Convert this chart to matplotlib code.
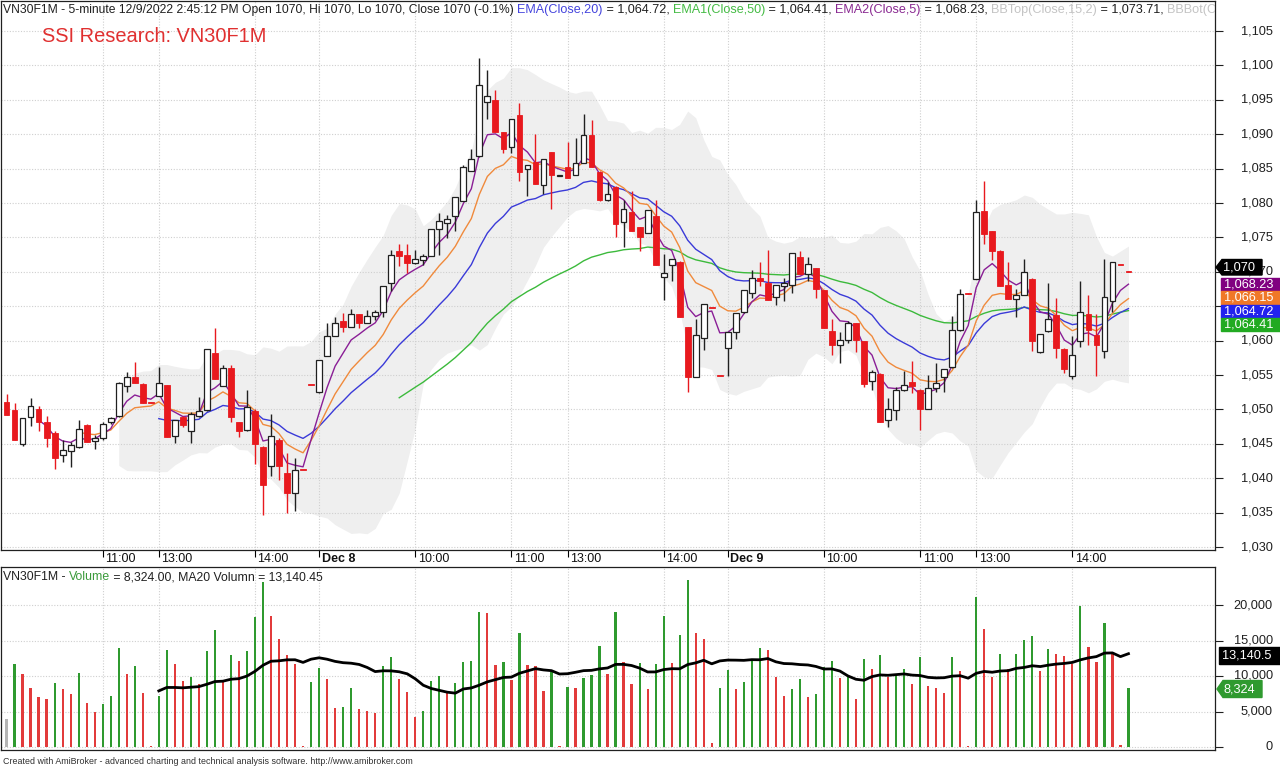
import numpy as np
import pandas as pd
import matplotlib
matplotlib.use("Agg")
import matplotlib.pyplot as plt
from matplotlib.patches import Rectangle, Polygon
from matplotlib.transforms import IdentityTransform, blended_transform_factory, offset_copy

plt.rcParams['font.family'] = ['Liberation Sans', 'DejaVu Sans']

# ---------------- data (5-minute bars, Dec 7 10:00 -> Dec 9 14:45) ----------------
opens = [1051.1, 1049.9, 1044.9, 1048.95, 1050.1, 1048.2, 1046.5, 1043.3, 1044.0, 1044.5,
         1047.8, 1045.4, 1045.9, 1048.1, 1049.0, 1053.4, 1054.7, 1053.7, 1051.05, 1052.0,
         1053.5, 1046.1, 1048.95, 1046.9, 1049.0, 1049.9, 1058.2, 1053.4, 1056.0, 1048.1,
         1047.0, 1049.8, 1044.6, 1041.8, 1045.6, 1040.7, 1037.9, 1041.25, 1053.55, 1052.6,
         1057.7, 1060.7, 1062.8, 1062.0, 1063.9, 1062.6, 1063.6, 1064.1, 1068.4, 1073.0,
         1072.5, 1071.3, 1071.7, 1072.3, 1076.2, 1077.1, 1078.1, 1080.3, 1084.7, 1086.9,
         1094.7, 1094.9, 1090.3, 1088.1, 1092.8, 1085.0, 1085.9, 1082.6, 1087.4, 1083.95,
         1085.2, 1084.0, 1085.8, 1089.9, 1084.5, 1080.4, 1082.3, 1077.2, 1078.7, 1076.5,
         1075.6, 1078.1, 1069.2, 1071.0, 1071.4, 1062.0, 1054.7, 1060.4, 1064.75, 1054.85,
         1058.9, 1061.3, 1064.1, 1066.9, 1069.1, 1068.3, 1066.4, 1068.0, 1068.1, 1072.2,
         1069.7, 1070.6, 1067.4, 1061.4, 1059.3, 1060.1, 1062.5, 1059.9, 1054.2, 1055.2,
         1048.4, 1049.9, 1052.8, 1054.0, 1052.8, 1050.0, 1053.1, 1054.7, 1056.1, 1061.5,
         1066.85, 1069.0, 1078.8, 1075.9, 1073.0, 1068.1, 1066.1, 1066.7, 1069.0, 1058.3,
         1061.4, 1063.7, 1058.8, 1054.8, 1059.9, 1063.9, 1060.8, 1058.5, 1065.8, 1071.05,
         1070.05]
highs = [1052.3, 1050.9, 1048.7, 1051.7, 1050.5, 1049.0, 1046.8, 1045.6, 1045.2, 1048.4,
         1047.9, 1046.3, 1048.2, 1048.9, 1054.0, 1055.5, 1056.9, 1053.9, 1051.05, 1056.2,
         1053.6, 1048.4, 1049.0, 1049.6, 1051.8, 1058.8, 1061.9, 1056.4, 1056.4, 1048.2,
         1052.8, 1050.0, 1044.7, 1049.3, 1045.8, 1043.7, 1043.0, 1041.25, 1053.55, 1057.2,
         1062.5, 1063.4, 1064.0, 1064.6, 1063.9, 1064.5, 1064.5, 1068.0, 1073.2, 1074.0,
         1074.0, 1073.2, 1072.6, 1076.2, 1078.5, 1078.2, 1080.8, 1085.5, 1087.9, 1101.1,
         1099.4, 1096.4, 1090.3, 1092.2, 1094.6, 1085.5, 1090.0, 1086.4, 1087.4, 1084.05,
         1088.9, 1089.5, 1092.9, 1092.0, 1084.6, 1083.0, 1082.5, 1080.5, 1081.7, 1076.5,
         1079.0, 1080.5, 1072.6, 1071.8, 1071.5, 1062.0, 1063.2, 1065.3, 1064.75, 1054.85,
         1061.3, 1064.0, 1067.4, 1070.3, 1071.4, 1073.2, 1068.1, 1069.1, 1072.7, 1073.0,
         1072.2, 1070.6, 1067.4, 1063.2, 1061.3, 1062.8, 1062.6, 1060.0, 1055.7, 1055.3,
         1051.6, 1053.3, 1055.6, 1057.1, 1052.9, 1055.0, 1056.8, 1055.8, 1063.6, 1067.5,
         1066.85, 1080.4, 1083.2, 1076.0, 1073.1, 1071.4, 1067.5, 1071.9, 1069.1, 1061.0,
         1068.4, 1066.2, 1058.9, 1060.7, 1068.6, 1066.6, 1063.9, 1071.8, 1071.4, 1071.05,
         1070.05]
lows = [1049.2, 1045.6, 1044.7, 1047.6, 1046.8, 1044.6, 1041.4, 1042.3, 1041.6, 1044.4,
        1045.2, 1044.3, 1045.6, 1047.9, 1048.9, 1052.5, 1053.8, 1051.0, 1051.0, 1051.9,
        1046.0, 1045.1, 1047.5, 1045.1, 1048.9, 1049.8, 1054.4, 1053.4, 1048.1, 1046.0,
        1046.8, 1042.1, 1034.7, 1040.3, 1039.8, 1034.9, 1035.2, 1041.2, 1053.5, 1052.4,
        1057.7, 1060.7, 1061.3, 1062.0, 1061.8, 1062.6, 1063.0, 1063.4, 1067.2, 1070.8,
        1069.8, 1071.1, 1071.0, 1072.3, 1072.5, 1074.9, 1075.9, 1080.3, 1084.6, 1086.7,
        1092.2, 1090.3, 1087.3, 1087.3, 1083.2, 1081.0, 1082.7, 1081.3, 1079.1, 1083.95,
        1083.7, 1084.0, 1085.8, 1085.3, 1080.3, 1080.3, 1075.0, 1073.6, 1075.9, 1073.0,
        1075.6, 1071.0, 1065.9, 1068.6, 1063.5, 1052.5, 1054.7, 1058.6, 1064.7, 1054.8,
        1054.8, 1060.3, 1064.0, 1066.2, 1068.0, 1065.9, 1065.2, 1065.7, 1066.9, 1069.7,
        1068.6, 1066.2, 1061.8, 1057.9, 1056.7, 1059.6, 1058.4, 1053.3, 1052.8, 1048.2,
        1047.4, 1048.4, 1052.7, 1052.4, 1047.0, 1050.0, 1052.5, 1052.5, 1056.0, 1061.4,
        1066.8, 1069.0, 1074.1, 1071.7, 1068.0, 1066.1, 1063.4, 1066.6, 1058.5, 1058.2,
        1061.3, 1057.4, 1055.3, 1054.4, 1059.0, 1059.4, 1054.8, 1057.4, 1064.1, 1071.0,
        1070.0]
closes = [1049.2, 1045.6, 1048.7, 1050.5, 1048.2, 1045.9, 1043.0, 1044.1, 1044.8, 1047.1,
          1045.2, 1045.9, 1047.9, 1048.7, 1053.9, 1054.7, 1053.9, 1051.0, 1051.0, 1053.9,
          1046.0, 1048.4, 1047.7, 1049.3, 1049.8, 1058.8, 1054.4, 1056.0, 1048.95, 1046.8,
          1050.4, 1044.95, 1038.95, 1046.2, 1041.8, 1037.9, 1041.2, 1041.2, 1053.5, 1057.2,
          1060.6, 1062.5, 1062.0, 1063.9, 1062.6, 1063.6, 1064.1, 1068.0, 1072.5, 1072.3,
          1071.3, 1071.8, 1072.3, 1076.2, 1077.4, 1077.7, 1080.8, 1085.3, 1086.4, 1097.1,
          1095.6, 1090.3, 1087.9, 1092.2, 1084.5, 1085.5, 1082.7, 1086.4, 1084.0, 1084.05,
          1083.7, 1085.8, 1089.9, 1085.3, 1080.4, 1081.3, 1077.0, 1079.1, 1075.9, 1075.0,
          1079.0, 1071.0, 1069.8, 1071.8, 1063.5, 1054.7, 1060.8, 1065.3, 1064.7, 1054.8,
          1061.3, 1064.0, 1067.4, 1069.1, 1068.7, 1065.9, 1068.1, 1068.3, 1072.7, 1069.7,
          1071.1, 1067.5, 1061.8, 1059.4, 1060.1, 1062.5, 1060.1, 1053.7, 1055.4, 1048.2,
          1050.1, 1052.8, 1053.6, 1053.4, 1050.0, 1053.1, 1053.8, 1055.8, 1061.5, 1066.8,
          1066.8, 1078.7, 1075.5, 1073.0, 1068.0, 1066.1, 1066.7, 1069.9, 1059.9, 1061.0,
          1063.2, 1058.9, 1055.8, 1057.9, 1064.1, 1061.5, 1059.4, 1066.3, 1071.4, 1071.0,
          1070.0]
volumes = [3944, 11644, 10329, 8263, 6996, 6761, 8967, 8122, 7418, 10470,
           6150, 4977, 6057, 7230, 13991, 10235, 11456, 7653, 150, 7230,
           13616, 11644, 9296, 9813, 8827, 13475, 16480, 9202, 12958, 12113,
           13475, 18264, 23193, 18498, 15212, 13000, 11644, 200, 9202, 11174,
           9578, 5540, 5634, 8357, 5305, 5071, 4836, 11456, 12677, 9578,
           7700, 4272, 5071, 9296, 10000, 7794, 8967, 11925, 12113, 19062,
           18921, 11550, 11925, 9390, 16104, 11550, 11362, 7888, 10611, 100,
           8498, 8357, 9672, 10141, 14226, 10235, 19062, 12019, 8827, 11784,
           8122, 11644, 18498, 11878, 15775, 23569, 16104, 15212, 600, 8263,
           10892, 8122, 9108, 12113, 13897, 13709, 9860, 7136, 8122, 9578,
           7043, 7418, 11315, 12113, 9672, 9860, 6761, 12395, 10939, 12958,
           9860, 10141, 10939, 8827, 12630, 8592, 8357, 7653, 12630, 10705,
           150, 21080, 16573, 9860, 13146, 10939, 13146, 15071, 15587, 10705,
           13850, 13146, 12817, 11644, 19907, 14038, 12019, 17512, 13146, 280,
           8324]
# n = first bar (no reference), G = green volume bar, R = red volume bar
vol_dir = list("nGRRRRGRRGRRGGGRGRRG"
               "GRRGRGGRGRGGGRRRRRGG"
               "RRGGRRRGGRRRGGGRGGGG"
               "RRGRGRRRGRGRGGGRGRRG"
               "RGGRGGRRRGGRGGGRRRGG"
               "RGGGRGRGRGRGGRGRRRGR"
               "RGRRGRGGGRGRRRGRRGRRG")

time_ticks = [12, 19, 31, 39, 51, 63, 70, 82, 90, 102, 114, 121, 133]
time_labels = ["11:00", "13:00", "14:00", "Dec 8", "10:00", "11:00", "13:00",
               "14:00", "Dec 9", "10:00", "11:00", "13:00", "14:00"]
price_ticks = list(range(1030, 1106, 5))
hidden_price_labels = [1065]          # covered by the value tags in the reference
vol_ticks = [0, 5000, 10000, 15000, 20000]

last_tags = [("1,068.23", "#800080"), ("1,066.15", "#f07828"),
             ("1,064.72", "#2222ee"), ("1,064.41", "#22aa22")]

# ---------------- helpers ----------------
W, H = 1280, 767
RED = "#e8191e"
C_EMA20 = "#3a3ad8"
C_EMA50 = "#3cba3c"
C_EMA5 = "#8a1e96"
C_EMA10 = "#f08a3c"


def ema(values, n):
    v = np.asarray(values, float)
    out = np.full(len(v), np.nan)
    if len(v) < n:
        return out
    out[n - 1] = v[:n].mean()
    a = 2.0 / (n + 1)
    for k in range(n, len(v)):
        out[k] = a * v[k] + (1 - a) * out[k - 1]
    return out


O = np.array(opens); Hh = np.array(highs); L = np.array(lows); C = np.array(closes)
V = np.array(volumes, float)
n = len(C)
x = np.arange(n)

cs = pd.Series(C)
mid = cs.rolling(15).mean()
sd = cs.rolling(15).std(ddof=0)
bb_top = mid + 2 * sd
bb_bot = mid - 2 * sd

fig = plt.figure(figsize=(W / 100, H / 100), dpi=100)
fig.patch.set_facecolor("white")


def fy(py):
    return 1 - py / H


ax1 = fig.add_axes([0.0008, fy(550), 1215 / W - 0.0008, (550 - 1) / H])
ax2 = fig.add_axes([0.0008, fy(750), 1215 / W - 0.0008, (750 - 567) / H])

xlim = (-0.69, 150.8)
for ax in (ax1, ax2):
    ax.set_xlim(*xlim)
    ax.set_axisbelow(True)
    for s in ax.spines.values():
        s.set_color("#202020")
        s.set_linewidth(0.9)
    ax.set_xticks(time_ticks)
    ax.grid(True, which="major", color="#cfcfcf", linestyle=(0, (1, 1.5)), linewidth=0.8)
    ax.yaxis.tick_right()
    ax.tick_params(axis="y", direction="out", length=6, width=0.8, color="#202020",
                   labelright=False, labelleft=False)

ax1.set_ylim(1030 - 3 / 6.88, 1030 + 546 / 6.88)
ax1.set_yticks(price_ticks)
ax1.tick_params(axis="x", direction="out", length=5, width=0.8, labelbottom=False)
ax2.set_ylim(-3 / 0.0071, 180 / 0.0071)
ax2.set_yticks(vol_ticks)
ax2.tick_params(axis="x", length=0, labelbottom=False)

# Bollinger band
ax1.fill_between(x, bb_bot, bb_top, color="#efefef", linewidth=0, zorder=0.3)

# moving averages
ax1.plot(x, ema(C, 50), color=C_EMA50, lw=1.0, zorder=2)
ax1.plot(x, ema(C, 20), color=C_EMA20, lw=1.0, zorder=2)
ax1.plot(x, ema(C, 10), color=C_EMA10, lw=1.0, zorder=2)
ax1.plot(x, ema(C, 5), color=C_EMA5, lw=1.0, zorder=2)

# candles
up = C > O
dn = ~up
bottom = np.minimum(O, C)
height = np.maximum(np.abs(C - O), 0.14)
ax1.vlines(x[up], L[up], Hh[up], color="#202020", lw=1.0, zorder=3)
ax1.vlines(x[dn], L[dn], Hh[dn], color=RED, lw=1.0, zorder=3)
ax1.bar(x[up], height[up], bottom=bottom[up], width=0.72, color="white",
        edgecolor="#202020", linewidth=0.9, zorder=4)
ax1.bar(x[dn], height[dn], bottom=bottom[dn], width=0.72, color=RED,
        edgecolor=RED, linewidth=0.6, zorder=4)

# volume
cmap = {"G": "#2f9a2f", "R": "#e23b3b", "n": "#b5b5b5"}
vcols = [cmap[c] for c in vol_dir]
ax2.bar(x, V, width=0.28, color=vcols, linewidth=0, zorder=3)
ma20 = pd.Series(V).rolling(20).mean()
ax2.plot(x, ma20, color="black", lw=2.0, zorder=4)

# right axis labels
for p in price_ticks:
    if p in hidden_price_labels:
        continue
    ax1.text(1273, ax1.transData.transform((0, p))[1], f"{p:,}", transform=IdentityTransform(),
             ha="right", va="center", fontsize=9.2, color="#202020")
for v in vol_ticks:
    ax2.text(1273, ax2.transData.transform((0, v))[1], f"{v:,}", transform=IdentityTransform(),
             ha="right", va="center", fontsize=9.2, color="#202020")

# time labels
tr = offset_copy(blended_transform_factory(ax1.transData, fig.transFigure), fig=fig, x=2.5, y=0, units="dots")
for t, lab in zip(time_ticks, time_labels):
    fig.text(t, fy(559), lab, transform=tr, ha="left", va="center", fontsize=9.0,
             color="#101010", fontweight="bold" if lab.startswith("Dec") else "normal")

fig.canvas.draw()
rend = fig.canvas.get_renderer()


def seq_text(ax, x0, ypix, parts):
    xp = x0
    for s, col, fs in parts:
        t = ax.text(xp, H - ypix, s, transform=IdentityTransform(), ha="left", va="center",
                    fontsize=fs, color=col, clip_on=True, zorder=10)
        bb = t.get_window_extent(rend)
        xp += bb.width


seq_text(ax1, 3, 10, [
    ("VN30F1M - 5-minute 12/9/2022 2:45:12 PM Open 1070, Hi 1070, Lo 1070, Close 1070 (-0.1%) ", "#202020", 8.7),
    ("EMA(Close,20)", "#4444dd", 9.1), (" = 1,064.72, ", "#202020", 9.1),
    ("EMA1(Close,50)", "#44bb44", 9.1), (" = 1,064.41, ", "#202020", 9.1),
    ("EMA2(Close,5)", "#8a2a92", 9.1), (" = 1,068.23, ", "#202020", 9.1),
    ("BBTop(Close,15,2)", "#c4c4c4", 9.1), (" = 1,073.71, ", "#202020", 9.1),
    ("BBBot(Close,15,2)", "#c4c4c4", 9.1)])

seq_text(ax2, 3, 577, [("VN30F1M - ", "#202020", 8.8), ("Volume", "#3a9a3a", 8.8),
                       (" = 8,324.00, MA20 Volumn = 13,140.45", "#202020", 8.8)])

ax1.text(42, H - 37, "SSI Research: VN30F1M", transform=IdentityTransform(), ha="left",
         va="center", fontsize=14.4, color="#e03030", zorder=10)

fig.text(3 / W, fy(761), "Created with AmiBroker - advanced charting and technical analysis software. http://www.amibroker.com",
         ha="left", va="center", fontsize=6.4, color="#303030")


# value tags
def arrow_tag(ytop, ybot, xtip, xright, fc, txt):
    ym = (ytop + ybot) / 2
    pts = [(xtip, ym), (xtip + 6, ytop), (xright, ytop), (xright, ybot), (xtip + 6, ybot)]
    pts = [(px / W, fy(py)) for px, py in pts]
    fig.add_artist(Polygon(pts, closed=True, transform=fig.transFigure, fc=fc, ec=fc, zorder=20))
    fig.text((xtip + 7) / W, fy(ym), txt, ha="left", va="center", fontsize=9.2, color="white", zorder=21)


def box_tag(ytop, ybot, xl, fc, txt):
    fig.add_artist(Rectangle((xl / W, fy(ybot)), (W - xl) / W, (ybot - ytop) / H,
                             transform=fig.transFigure, fc=fc, ec=fc, zorder=20))
    fig.text((xl + 3) / W, fy((ytop + ybot) / 2), txt, ha="left", va="center",
             fontsize=9.2, color="white", zorder=21)


arrow_tag(259.5, 275, 1216, 1262, "black", "1,070")
ys = [277.5, 291, 304.5, 318]
for (txt, col), yt in zip(last_tags, ys):
    box_tag(yt, yt + 13.5, 1221, col, txt)

box_tag(647, 664, 1219, "black", "13,140.5")
arrow_tag(680.5, 697.5, 1217, 1262, "#2f9a2f", "8,324")

fig.savefig("out.png", dpi=100, facecolor="white")
